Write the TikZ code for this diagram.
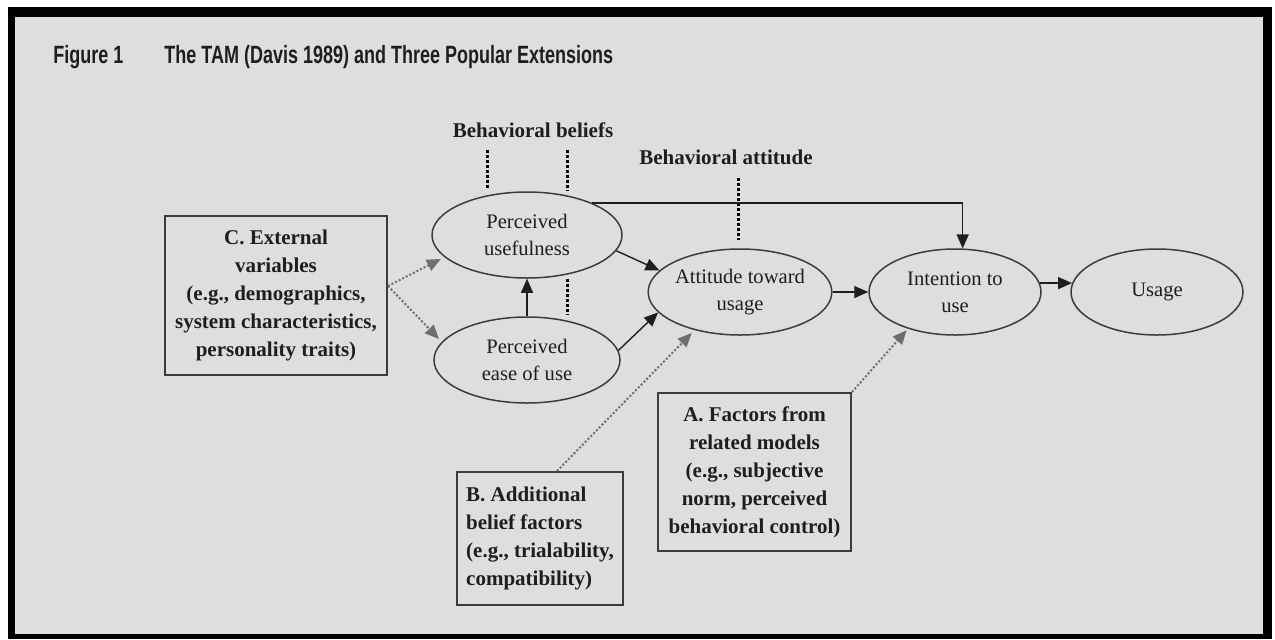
\documentclass[tikz,border=0pt]{standalone}
\usepackage{fontspec}
\setmainfont{Liberation Serif}
\newfontfamily\titlefont[FakeStretch=0.72]{Liberation Sans}
\usetikzlibrary{arrows.meta,shapes.geometric,calc}

\definecolor{paper}{RGB}{222,222,222}
\definecolor{ink}{RGB}{30,30,30}
\definecolor{edge}{RGB}{60,60,60}
\definecolor{extgray}{RGB}{110,110,110}

\tikzset{
  heading/.style={font=\titlefont\bfseries\fontsize{12.5}{14}\selectfont, text=ink, inner sep=0pt},
  layer/.style={font=\bfseries\fontsize{10.5}{14}\selectfont, text=ink, inner sep=0pt},
  construct/.style={ellipse, draw=edge, line width=0.75pt, inner sep=0pt,
    font=\fontsize{10.3}{13.5}\selectfont, text=ink, align=center},
  factorbox/.style={rectangle, draw=edge, line width=1pt, inner sep=0pt,
    font=\bfseries\fontsize{10.5}{14}\selectfont, text=ink},
  link/.style={draw=ink, line width=0.7pt, -{Triangle[length=7pt,width=6pt]}},
  extlink/.style={draw=extgray, line width=1pt, dash pattern=on 1pt off 1pt,
    -{Triangle[length=7pt,width=6pt,fill=extgray]}},
  levelmark/.style={draw=black, line width=1.5pt, dash pattern=on 1.5pt off 1pt}
}

\begin{document}
\begin{tikzpicture}[x=0.5pt,y=-0.5pt]
  \useasboundingbox (0,0) rectangle (1275,639);
  % page, frame and paper
  \fill[white] (0,0) rectangle (1275,639);
  \fill[black] (8,7) rectangle (1272,639);
  \fill[paper] (15,17) rectangle (1263,634);

  % heading
  \node[heading, anchor=base west] (fig) at (53,63) {Figure 1};
  \node[heading, anchor=base west] (title) at (164,63) {The TAM (Davis 1989) and Three Popular Extensions};

  % level labels
  \node[layer] (beliefs) at (533,130) {Behavioral beliefs};
  \node[layer] (attitude) at (726,157) {Behavioral attitude};

  % constructs
  \node[construct, minimum width=95pt, minimum height=43pt] (pu) at (527,235) {Perceived\\usefulness};
  \node[construct, minimum width=93pt, minimum height=43pt] (peou) at (527,360) {Perceived\\ease of use};
  \node[construct, minimum width=85pt, minimum height=43pt] (att) at (740,292) {Attitude toward\\usage};
  \node[construct, minimum width=86pt, minimum height=43pt] (int) at (955,292) {Intention to\\use};
  \node[construct, minimum width=86pt, minimum height=43pt] (use) at (1157,292) {Usage};

  % extension boxes
  \node[factorbox, align=center, minimum width=111pt, minimum height=79.5pt] (ext) at (276,295.5)
    {C. External\\variables\\(e.g., demographics,\\system characteristics,\\personality traits)};
  \node[factorbox, align=center, minimum width=96.5pt, minimum height=79pt] (rel) at (754.5,472)
    {A. Factors from\\related models\\(e.g., subjective\\norm, perceived\\behavioral control)};
  \node[factorbox, align=left, minimum width=83pt, minimum height=66.5pt] (add) at (540,538.5)
    {B. Additional\\belief factors\\(e.g., trialability,\\compatibility)};

  % level markers
  \draw[levelmark] (487,150) -- (487,190);
  \draw[levelmark] (567,150) -- (pu.north -| 567,0);
  \draw[levelmark] (pu.south -| 567,0) -- (567,315);
  \draw[levelmark] (738,178) -- (738,240);

  % TAM core paths
  \draw[link] (peou.north) -- (pu.south);
  \draw[link] (pu.350) -- (att.165);
  \draw[link] (peou.6) -- (att.194);
  \draw[link] (pu.26) -| (int.80);
  \draw[link] (att.east) -- (int.west);
  \draw[link] (int.6) -- (use.174);

  % extensions
  \coordinate (fork) at ($(ext.east)+(0,-9.5)$);
  \draw[extlink, shorten >=2pt] (fork) -- (pu.195);
  \draw[extlink, shorten >=2pt] (fork) -- (peou.168);
  \draw[extlink, shorten >=2pt] ($(add.north)+(17,0)$) -- (att.220);
  \draw[extlink, shorten >=1pt] (rel.north east) -- (int.218);
\end{tikzpicture}
\end{document}
